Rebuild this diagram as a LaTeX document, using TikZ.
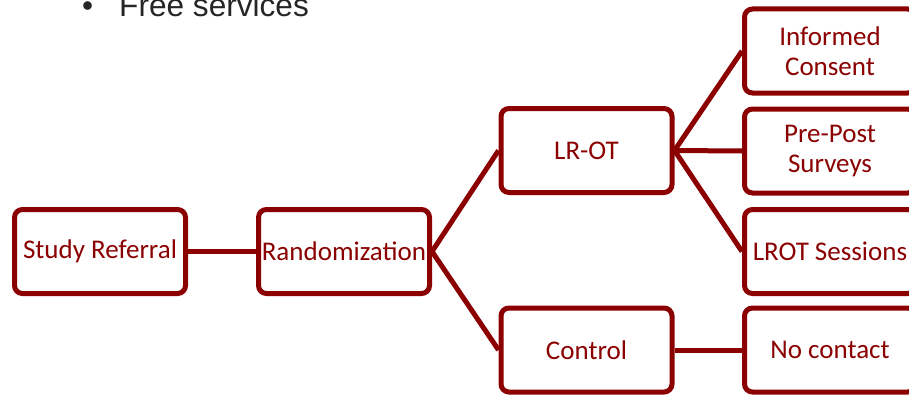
\documentclass[tikz,border=0pt]{standalone}
\usepackage{fontspec}
\setmainfont{Carlito}
\newfontfamily\arialfont{Liberation Sans}
\definecolor{boxred}{RGB}{139,0,0}
\definecolor{bodygray}{RGB}{38,38,38}
\begin{document}
\begin{tikzpicture}[x=1pt,y=-1pt,
  box/.style={draw=boxred, line width=5pt, rounded corners=8pt, fill=white,
    minimum width=171pt, minimum height=84pt, inner sep=0pt, align=center,
    text=boxred, font=\fontsize{27}{29.5}\selectfont},
  link/.style={draw=boxred, line width=5pt}]
\useasboundingbox (0,0) rectangle (909,396);
\node[anchor=base west, inner sep=0pt, text=bodygray, font=\arialfont\fontsize{31.6}{36}\selectfont] (bullet) at (82,17) {•\hspace{26pt}Free services};
\node[box] (ref) at (100,251.5) {Study Referral};
\node[box] (rand) at (344,251.5) {Randomization};
\node[box] (lrot) at (586.5,150.5) {LR-OT};
\node[box] (ctrl) at (586.5,350) {Control};
\node[box] (ic) at (830,51) {Informed\\Consent};
\node[box] (pp) at (830,151) {Pre-Post\\Surveys};
\node[box] (ls) at (830,251.5) {LROT Sessions};
\node[box] (nc) at (830,350) {No contact};
\draw[link] (ref.east) -- (rand.west);
\draw[link] (rand.east) -- (lrot.west);
\draw[link] (rand.east) -- (ctrl.west);
\draw[link] (lrot.east) -- (ic.west);
\draw[link] (lrot.east) -- (pp.west);
\draw[link] (lrot.east) -- (ls.west);
\draw[link] (ctrl.east) -- (nc.west);
\end{tikzpicture}
\end{document}
